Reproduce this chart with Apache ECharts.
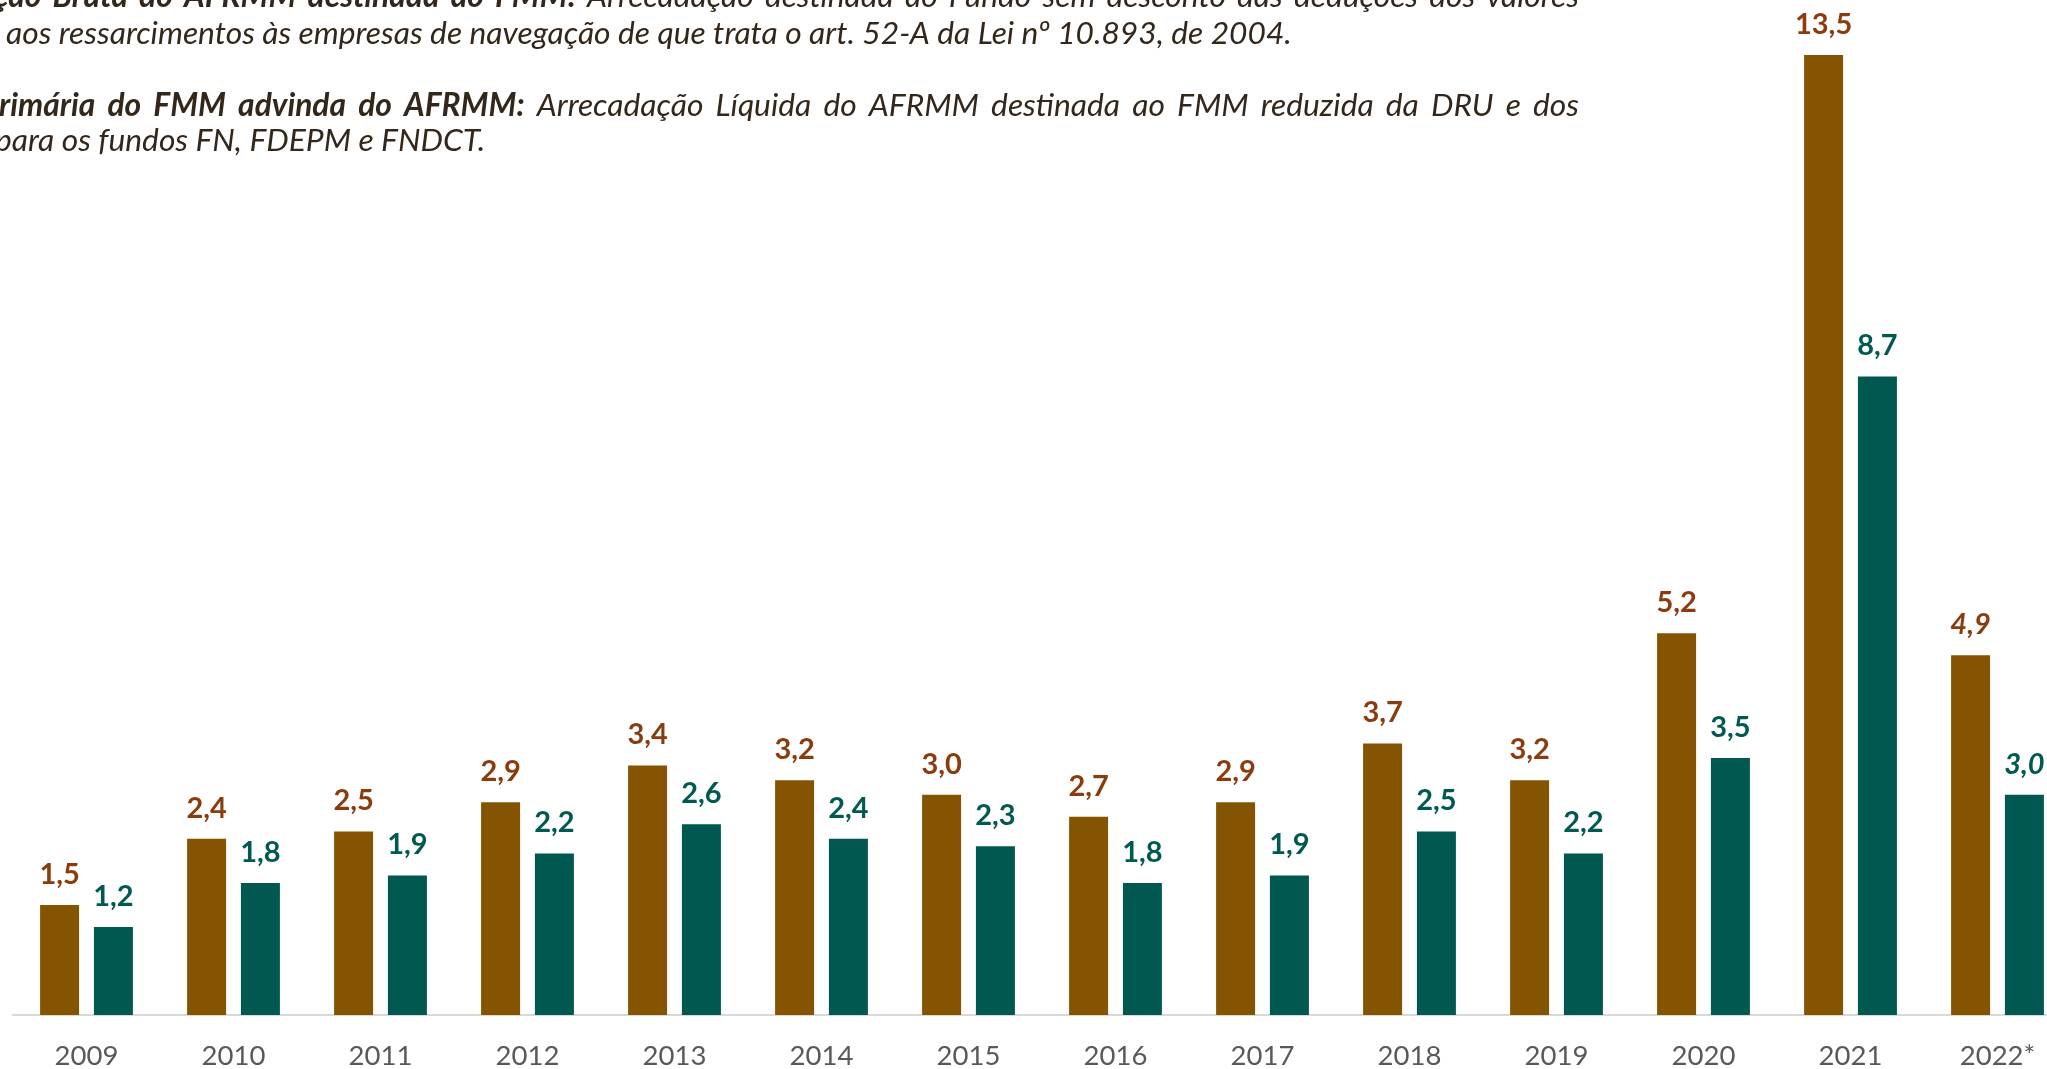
<!DOCTYPE html>
<html>
<head>
<meta charset="utf-8">
<script src="https://cdn.jsdelivr.net/npm/echarts@6/dist/echarts.min.js"></script>
<style>
html,body{margin:0;padding:0;background:#fff;}
#chart{width:2047px;height:1069px;}
</style>
</head>
<body>
<div id="chart"></div>
<script>
const categories = ['2009','2010','2011','2012','2013','2014','2015','2016','2017','2018','2019','2020','2021','2022*'];
const grossValues = [1.5,2.4,2.5,2.9,3.4,3.2,3.0,2.7,2.9,3.7,3.2,5.2,13.5,4.9];
const netValues = [1.2,1.8,1.9,2.2,2.6,2.4,2.3,1.8,1.9,2.5,2.2,3.5,8.7,3.0];
const seriesNames = ['Arrecadação Bruta do AFRMM destinada ao FMM','Receita Primária do FMM advinda do AFRMM'];

const noteLines = [
  {parts:[{t:'ção Bruta do AFRMM destinada ao FMM:', b:true},{t:'Arrecadação destinada ao Fundo sem desconto das deduções dos valores', b:false}], justify:true},
  {parts:[{t:'aos ressarcimentos às empresas de navegação de que trata o art. 52-A da Lei nº 10.893, de 2004.', b:false}], justify:false},
  {parts:[{t:'rimária do FMM advinda do AFRMM:', b:true},{t:'Arrecadação Líquida do AFRMM destinada ao FMM reduzida da DRU e dos', b:false}], justify:true},
  {parts:[{t:'para os fundos FN, FDEPM e FNDCT.', b:false}], justify:false}
];
const noteLayout = [
  {x:-6, base:7},
  {x:6, base:43.5},
  {x:-1, base:116},
  {x:-5, base:151}
];
const noteRight = 1579;
const noteColor = '#33271c';
const noteFamily = 'Lato';

const ctx = document.createElement('canvas').getContext('2d');
function fontStr(b, fs){ return 'italic ' + (b ? 'bold ' : 'normal ') + fs + 'px ' + noteFamily; }
function measure(t, b, fs){ ctx.font = fontStr(b, fs); return ctx.measureText(t).width; }

let fs = 30;
const w2 = measure(noteLines[1].parts[0].t, false, 30);
fs = 30 * (1292 - 6) / w2;

const graphics = [];
noteLines.forEach((ln, li) => {
  const lay = noteLayout[li];
  const words = [];
  ln.parts.forEach(p => p.t.split(' ').forEach(w => { if (w) words.push({w, b:p.b}); }));
  const widths = words.map(o => measure(o.w, o.b, fs));
  let gap;
  if (ln.justify) {
    const tot = widths.reduce((a,c)=>a+c,0);
    gap = (noteRight - lay.x - tot) / (words.length - 1);
  } else {
    gap = measure(' ', false, fs);
  }
  let x = lay.x;
  const cy = lay.base - 0.32 * fs;
  words.forEach((o, i) => {
    graphics.push({
      type:'text', x:x, y:cy, silent:true,
      style:{text:o.w, font:fontStr(o.b, fs), fill:noteColor, align:'left', verticalAlign:'middle'}
    });
    x += widths[i] + gap;
  });
});

function fmt(p){ return Number(p.value).toFixed(1).replace('.', ','); }
function withLastItalic(arr){
  return arr.map((v,i) => i === arr.length - 1
    ? {value:v, label:{show:true, fontStyle:'italic', fontWeight:'bold', fontFamily:'Lato', fontSize:29}}
    : v);
}

const chart = echarts.init(document.getElementById('chart'), null, {renderer:'canvas'});
chart.setOption({
  animation:false,
  backgroundColor:'#ffffff',
  graphic:graphics,
  grid:{left:13, top:55, width:2058, bottom:54, containLabel:false, outerBoundsMode:'none'},
  xAxis:{
    type:'category', data:categories,
    axisTick:{show:false},
    axisLine:{show:true, lineStyle:{color:'#d9d9d9', width:2}},
    axisLabel:{fontSize:27.5, fontFamily:'Lato', color:'#595959', margin:27}
  },
  yAxis:{type:'value', min:0, max:13.08, show:false, splitLine:{show:false}},
  series:[
    {
      name:seriesNames[0], type:'bar', data:withLastItalic(grossValues),
      barWidth:39, barGap:'38%',
      itemStyle:{color:'#855400'},
      label:{show:true, position:'top', distance:16, formatter:fmt, fontFamily:'Lato', fontWeight:'bold', fontSize:29, color:'#8a3c0e'}
    },
    {
      name:seriesNames[1], type:'bar', data:withLastItalic(netValues),
      barWidth:39, barGap:'38%',
      itemStyle:{color:'#005850'},
      label:{show:true, position:'top', distance:16, formatter:fmt, fontFamily:'Lato', fontWeight:'bold', fontSize:29, color:'#005a50'}
    }
  ]
});
</script>
</body>
</html>
